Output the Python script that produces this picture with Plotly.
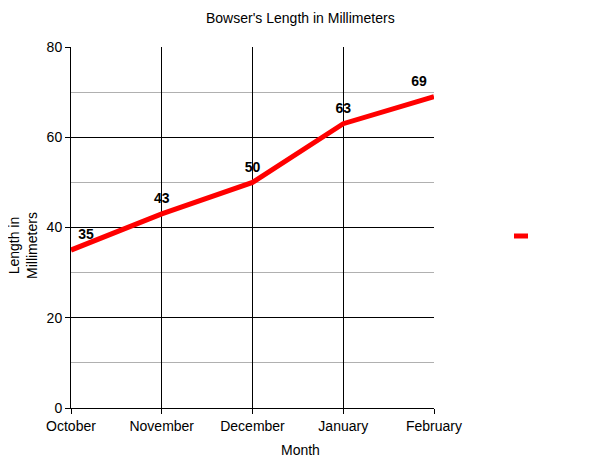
import plotly.graph_objects as go

months = ["October", "November", "December", "January", "February"]
length_mm = [35, 43, 50, 63, 69]
y_ticks = [0, 20, 40, 60, 80]

label_pos = ["top right", "top center", "top center", "top center", "top left"]

# page body has an 8px margin, so the plot box is pulled up/left by 8
L, T, W, H = 63, 39, 363, 361

fig = go.Figure()
fig.add_trace(go.Scatter(
    x=months, y=length_mm,
    mode="lines+markers+text",
    line=dict(color="#ff0000", width=5),
    marker=dict(size=10, color="rgba(0,0,0,0)"),
    text=[str(v) for v in length_mm],
    textposition=label_pos,
    textfont=dict(family="Liberation Sans, Arial", size=14, color="#000", weight="bold"),
    showlegend=False,
    cliponaxis=False,
))

font = dict(family="Liberation Sans, Arial", size=14, color="#000")

def px(x):
    return (x - 8 - L) / W

def py(y):
    return (T + H - (y - 8)) / H

fig.update_layout(
    width=600, height=463,
    margin=dict(l=L, r=600 - L - W, t=T, b=463 - T - H),
    paper_bgcolor="white", plot_bgcolor="white",
    font=font,
    xaxis=dict(
        type="category", range=[0, 4],
        showgrid=True, gridcolor="#000", gridwidth=1,
        showline=True, linecolor="#000", linewidth=1, mirror=False,
        ticks="outside", ticklen=5, tickcolor="#000",
        tickfont=font, zeroline=False,
    ),
    yaxis=dict(
        range=[0, 80], tickvals=y_ticks,
        showgrid=True, gridcolor="#000", gridwidth=1,
        minor=dict(dtick=10, showgrid=True, gridcolor="#b0b0b0", gridwidth=1),
        showline=True, linecolor="#000", linewidth=1,
        ticks="outside", ticklen=5, tickcolor="#000",
        tickfont=font, zeroline=False,
    ),
    annotations=[
        dict(text="Bowser's Length in Millimeters", xref="paper", yref="paper",
             x=px(300), y=py(18), xanchor="center", yanchor="middle",
             showarrow=False, font=font),
        dict(text="Month", xref="paper", yref="paper",
             x=px(300), y=py(450), xanchor="center", yanchor="middle",
             showarrow=False, font=font),
        dict(text="Length in<br>Millimeters", xref="paper", yref="paper",
             x=px(23), y=py(246), xanchor="center", yanchor="middle",
             showarrow=False, textangle=-90, font=font),
    ],
    shapes=[
        dict(type="line", xref="paper", yref="paper",
             x0=px(514), x1=px(528), y0=py(236), y1=py(236),
             line=dict(color="#ff0000", width=5)),
    ],
)

fig.write_html("out.html")
